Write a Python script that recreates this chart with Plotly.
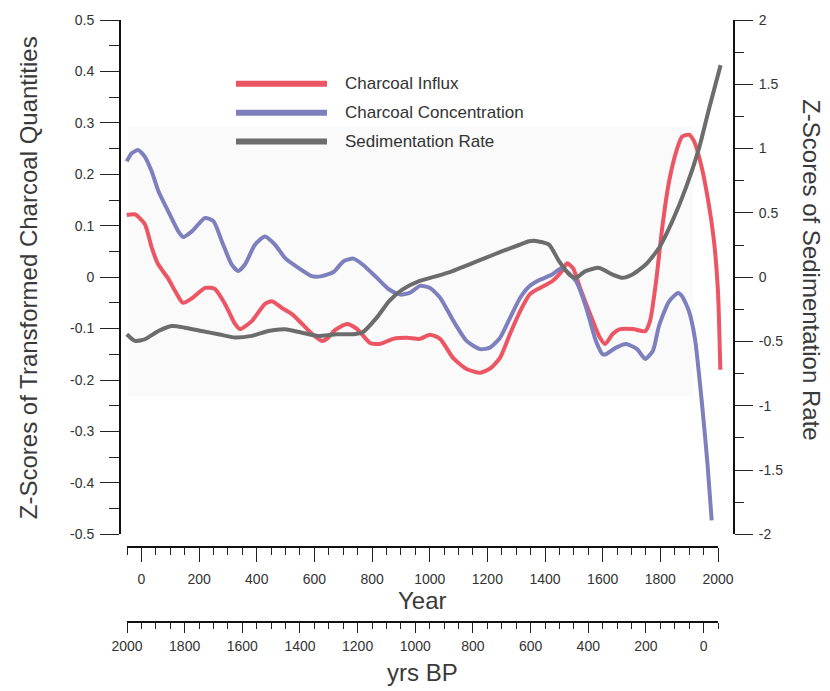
import plotly.graph_objects as go

# Calendar years (AD) and z-scores for each record
years_influx = [-53, -24, 10, 34, 56, 90, 115, 142, 174, 219, 253, 288, 323, 340, 382, 427, 451,
                486, 521, 556, 590, 625, 646, 670, 712, 747, 792, 826, 872, 920, 965, 1000, 1035,
                1080, 1125, 1174, 1208, 1243, 1278, 1313, 1347, 1382, 1424, 1458, 1476, 1497, 1521,
                1556, 1590, 1608, 1635, 1660, 1705, 1747, 1764, 1785, 1806, 1830, 1858, 1875, 1899,
                1917, 1941, 1962, 1986, 2000, 2008]
influx = [0.121, 0.122, 0.103, 0.057, 0.025, -0.002, -0.027, -0.050, -0.041, -0.021, -0.023, -0.052,
          -0.091, -0.101, -0.085, -0.052, -0.047, -0.060, -0.072, -0.091, -0.110, -0.124, -0.118,
          -0.103, -0.091, -0.101, -0.128, -0.130, -0.120, -0.118, -0.120, -0.112, -0.120, -0.157,
          -0.178, -0.186, -0.178, -0.157, -0.110, -0.066, -0.033, -0.021, -0.008, 0.012, 0.027,
          0.017, -0.021, -0.072, -0.118, -0.130, -0.110, -0.101, -0.101, -0.105, -0.085, -0.008,
          0.095, 0.186, 0.250, 0.273, 0.277, 0.264, 0.219, 0.161, 0.070, -0.030, -0.180]

years_conc = [-53, -36, -13, 10, 34, 57, 91, 126, 143, 173, 219, 248, 277, 311, 334, 358, 392, 427,
              462, 497, 543, 589, 624, 665, 700, 734, 765, 815, 858, 896, 931, 965, 1000, 1035,
              1081, 1127, 1174, 1208, 1243, 1278, 1313, 1344, 1378, 1424, 1458, 1507, 1542, 1576,
              1600, 1611, 1646, 1680, 1719, 1747, 1774, 1795, 1830, 1861, 1875, 1899, 1920, 1945,
              1963, 1978]
conc = [0.225, 0.241, 0.247, 0.234, 0.205, 0.167, 0.128, 0.089, 0.078, 0.089, 0.115, 0.109, 0.070,
        0.025, 0.012, 0.025, 0.063, 0.079, 0.063, 0.037, 0.018, 0.002, 0.002, 0.010, 0.031, 0.036,
        0.025, -0.001, -0.024, -0.034, -0.030, -0.017, -0.021, -0.040, -0.085, -0.124, -0.140,
        -0.137, -0.118, -0.079, -0.040, -0.018, -0.006, 0.005, 0.018, -0.008, -0.059, -0.124,
        -0.150, -0.150, -0.137, -0.130, -0.140, -0.159, -0.143, -0.095, -0.047, -0.031, -0.037,
        -0.066, -0.120, -0.250, -0.360, -0.473]

years_sed = [-53, -24, 10, 57, 103, 149, 207, 265, 323, 381, 439, 497, 555, 609, 676, 734, 765, 815,
             858, 905, 962, 1023, 1078, 1135, 1193, 1251, 1309, 1344, 1367, 1413, 1448, 1483, 1506,
             1540, 1587, 1633, 1668, 1703, 1749, 1795, 1841, 1888, 1934, 1969, 2009]
sed = [-0.444, -0.496, -0.483, -0.419, -0.380, -0.393, -0.419, -0.444, -0.470, -0.457, -0.419,
       -0.405, -0.432, -0.457, -0.444, -0.444, -0.431, -0.315, -0.186, -0.095, -0.031, 0.008, 0.047,
       0.098, 0.150, 0.202, 0.250, 0.279, 0.282, 0.253, 0.124, 0.021, -0.005, 0.047, 0.072, 0.021,
       -0.005, 0.021, 0.098, 0.227, 0.434, 0.692, 1.002, 1.312, 1.649]

# Tick values and labels
left_ticks = [0.5, 0.4, 0.3, 0.2, 0.1, 0, -0.1, -0.2, -0.3, -0.4, -0.5]
left_labels = ["0.5", "0.4", "0.3", "0.2", "0.1", "0", "-0.1", "-0.2", "-0.3", "-0.4", "-0.5"]
right_ticks = [2, 1.5, 1, 0.5, 0, -0.5, -1, -1.5, -2]
right_labels = ["2", "1.5", "1", "0.5", "0", "-0.5", "-1", "-1.5", "-2"]

series_names = ["Charcoal Influx", "Charcoal Concentration", "Sedimentation Rate"]
series_colors = ["#ec5563", "#7d80bd", "#6c6c6c"]

FONT = "Arial, Liberation Sans, sans-serif"
TXT = "#333333"

# page geometry (px)
W_PAGE, H_PAGE = 830, 691
L, R, T, B = 121, 97, 18, 69
PW = W_PAGE - L - R
PH = H_PAGE - T - B


def px_x(px):
    return (px - L) / PW


def px_y(py):
    return (T + PH - py) / PH


y_dom = [px_y(534), 1]

fig = go.Figure()

# empty traces so the calendar and BP scales are drawn (added first, kept underneath)
fig.add_trace(go.Scatter(x=[], y=[], xaxis="x2", yaxis="y", showlegend=False, hoverinfo="skip"))
fig.add_trace(go.Scatter(x=[], y=[], xaxis="x3", yaxis="y", showlegend=False, hoverinfo="skip"))

fig.add_trace(go.Scatter(x=years_influx, y=influx, mode="lines", name=series_names[0],
                         line=dict(color=series_colors[0], width=4, shape="spline", smoothing=0.6),
                         xaxis="x", yaxis="y", showlegend=False))
fig.add_trace(go.Scatter(x=years_conc, y=conc, mode="lines", name=series_names[1],
                         line=dict(color=series_colors[1], width=4, shape="spline", smoothing=0.6),
                         xaxis="x", yaxis="y", showlegend=False))
fig.add_trace(go.Scatter(x=years_sed, y=sed, mode="lines", name=series_names[2],
                         line=dict(color=series_colors[2], width=4, shape="spline", smoothing=0.6),
                         xaxis="x", yaxis="y2", showlegend=False))

tickfont = dict(family=FONT, size=14, color=TXT)
scale_dom = [px_x(127), px_x(718)]

fig.update_layout(
    width=W_PAGE, height=H_PAGE,
    margin=dict(l=L, r=R, t=T, b=B),
    paper_bgcolor="white", plot_bgcolor="rgba(0,0,0,0)",
    xaxis=dict(domain=[0, 1], range=[-73, 2052], visible=False, showgrid=False, zeroline=False),
    yaxis=dict(domain=y_dom, range=[-0.5, 0.5], anchor="x",
               tickmode="array", tickvals=left_ticks, ticktext=left_labels,
               ticks="outside", ticklen=19, tickwidth=1, tickcolor="#222",
               showline=True, linewidth=2, linecolor="#111",
               showgrid=False, zeroline=False, tickfont=tickfont, ticklabelstandoff=3,
               minor=dict(tickmode="linear", tick0=0, dtick=0.05, ticks="outside",
                          ticklen=10, tickwidth=1, tickcolor="#222", showgrid=False)),
    yaxis2=dict(domain=y_dom, range=[-2, 2], overlaying="y", side="right", anchor="x",
                tickmode="array", tickvals=right_ticks, ticktext=right_labels,
                ticks="outside", ticklen=18, tickwidth=1, tickcolor="#222",
                showline=True, linewidth=2, linecolor="#111",
                showgrid=False, zeroline=False, tickfont=tickfont, ticklabelstandoff=3,
                minor=dict(tickmode="linear", tick0=0, dtick=0.25, ticks="outside",
                           ticklen=9, tickwidth=1, tickcolor="#222", showgrid=False)),
    xaxis2=dict(domain=scale_dom, range=[-50, 2000], anchor="free", position=px_y(547),
                tickmode="linear", tick0=0, dtick=200,
                ticks="outside", ticklen=14, tickwidth=1, tickcolor="#222",
                showline=True, linewidth=1.5, linecolor="#111",
                showgrid=False, zeroline=False, tickfont=tickfont, ticklabelstandoff=5,
                minor=dict(tickmode="linear", tick0=0, dtick=50, ticks="outside",
                           ticklen=7, tickwidth=1, tickcolor="#222", showgrid=False)),
    xaxis3=dict(domain=scale_dom, range=[2000, -50], anchor="free", position=0,
                tickmode="linear", tick0=0, dtick=200,
                ticks="outside", ticklen=10, tickwidth=1, tickcolor="#222",
                showline=True, linewidth=1.5, linecolor="#111",
                showgrid=False, zeroline=False, tickfont=tickfont, ticklabelstandoff=1,
                minor=dict(tickmode="linear", tick0=0, dtick=50, ticks="outside",
                           ticklen=6, tickwidth=1, tickcolor="#222", showgrid=False)),
)

# faint panel behind the middle of the plot
fig.add_shape(type="rect", xref="paper", yref="paper", layer="below",
              x0=px_x(128), x1=px_x(693), y0=px_y(395), y1=px_y(125),
              fillcolor="#fafafa", line=dict(width=0))

# key: line samples with names
key_rows = [82, 111, 140]
for name, color, row in zip(series_names, series_colors, key_rows):
    fig.add_shape(type="line", xref="paper", yref="paper",
                  x0=px_x(236), x1=px_x(327), y0=px_y(row), y1=px_y(row),
                  line=dict(color=color, width=6))
    fig.add_annotation(x=px_x(343), y=px_y(row), xref="paper", yref="paper",
                       text=name, showarrow=False, xanchor="left", yanchor="middle",
                       font=dict(family=FONT, size=17, color=TXT))

titlefont = dict(family=FONT, size=24, color="#3a3a3a")
fig.add_annotation(x=px_x(28), y=px_y(277), xref="paper", yref="paper", textangle=-90,
                   text="Z-Scores of Transformed Charcoal Quantities", showarrow=False,
                   xanchor="center", yanchor="middle", font=titlefont)
fig.add_annotation(x=px_x(812), y=px_y(269), xref="paper", yref="paper", textangle=90,
                   text="Z-Scores of Sedimentation Rate", showarrow=False,
                   xanchor="center", yanchor="middle", font=titlefont)
fig.add_annotation(x=px_x(422), y=px_y(600), xref="paper", yref="paper",
                   text="Year", showarrow=False, xanchor="center", yanchor="middle",
                   font=titlefont)
fig.add_annotation(x=px_x(422), y=px_y(673), xref="paper", yref="paper",
                   text="yrs BP", showarrow=False, xanchor="center", yanchor="middle",
                   font=titlefont)

fig.write_html("out.html")
